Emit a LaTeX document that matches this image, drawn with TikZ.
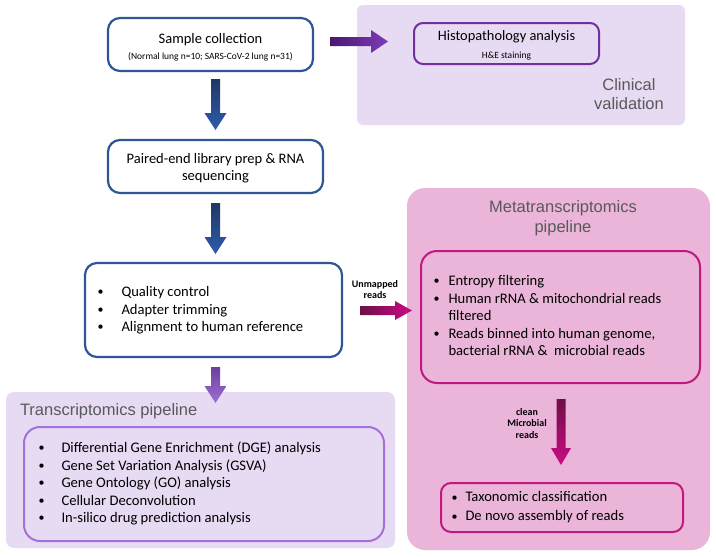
\documentclass[tikz,border=0pt]{standalone}
\usepackage{fontspec}
\setmainfont{Carlito}
\newfontfamily\arialf{Liberation Sans}
\usetikzlibrary{calc}
\definecolor{boxblue}{HTML}{2F5597}
\definecolor{navytop}{HTML}{1F3864}
\definecolor{bluebot}{HTML}{2E5CAC}
\definecolor{histpurple}{HTML}{7030A0}
\definecolor{purpdark}{HTML}{4A1870}
\definecolor{purplight}{HTML}{7E3BB8}
\definecolor{lavbg}{HTML}{E7DAF3}
\definecolor{transborder}{HTML}{A570DA}
\definecolor{transtop}{HTML}{6A3F9C}
\definecolor{transbot}{HTML}{A06ED6}
\definecolor{pinkbg}{HTML}{EBB5D9}
\definecolor{magborder}{HTML}{C2177F}
\definecolor{magdark}{HTML}{6E0F47}
\definecolor{maglight}{HTML}{CC0A86}
\definecolor{titlegray}{HTML}{595959}
\newcommand{\bul}{\raisebox{0.8pt}{\fontsize{12}{12}\selectfont\textbullet}}
\newcommand{\varrowshape}[5]{\shade[top color=#3,bottom color=#4] let \p1=#1, \p2=#2 in
  (\x2-4.5pt,\y1) -- (\x2+4.5pt,\y1) -- (\x2+4.5pt,\y2+17pt) -- (\x2+#5,\y2+17pt) -- (\x2,\y2)
  -- (\x2-#5,\y2+17pt) -- (\x2-4.5pt,\y2+17pt) -- cycle;}
\newcommand{\harrowshape}[5]{\shade[left color=#3,right color=#4] let \p1=#1, \p2=#2 in
  (\x1,\y2+4.5pt) -- (\x2-17pt,\y2+4.5pt) -- (\x2-17pt,\y2+#5) -- (\x2,\y2)
  -- (\x2-17pt,\y2-#5) -- (\x2-17pt,\y2-4.5pt) -- (\x1,\y2-4.5pt) -- cycle;}
\begin{document}
\begin{tikzpicture}[x=1pt,y=-1pt,
  bgbox/.style={draw=none, inner sep=0pt, outer sep=0pt},
  bluebox/.style={draw=boxblue, line width=2.2pt, rounded corners=12pt, fill=white, inner sep=0pt, outer sep=0pt},
  histbox/.style={draw=histpurple, line width=2pt, rounded corners=9pt, inner sep=0pt, outer sep=0pt},
  magbox/.style={draw=magborder, line width=2pt, rounded corners=16pt, inner sep=0pt, outer sep=0pt},
  transbox/.style={draw=transborder, line width=2pt, rounded corners=16pt, inner sep=0pt, outer sep=0pt},
  boxtext/.style={inner sep=0pt, outer sep=0pt, align=center, font=\fontsize{14.5}{17}\selectfont},
  listtext/.style={inner sep=0pt, outer sep=0pt, anchor=west, align=left, font=\fontsize{14.6}{17.5}\selectfont},
  title/.style={inner sep=0pt, outer sep=0pt, text=titlegray, font=\arialf\fontsize{16.5}{18.5}\selectfont, align=center},
  arrowlabel/.style={inner sep=0pt, outer sep=0pt, align=center, font=\bfseries\fontsize{10}{11.5}\selectfont}
]
\useasboundingbox (0,0) rectangle (716,557);
\fill[white] (0,0) rectangle (716,557);

% backgrounds
\node[bgbox, fill=lavbg, rounded corners=6pt, minimum width=328pt, minimum height=120pt] (clinbg) at (521,65) {};
\node[bgbox, fill=pinkbg, rounded corners=18pt, minimum width=303pt, minimum height=362pt] (metabg) at (558.5,369) {};
\node[bgbox, fill=lavbg, rounded corners=8pt, minimum width=389pt, minimum height=156pt] (transbg) at (200.5,470) {};

% titles
\node[title] (clintitle) at (629,94) {Clinical\\validation};
\node[title, font=\arialf\fontsize{16.5}{20}\selectfont] (metatitle) at (563,218) {Metatranscriptomics\\pipeline};
\node[title, anchor=west] (transtitle) at (20,411) {Transcriptomics pipeline};

% main boxes
\node[bluebox, minimum width=205pt, minimum height=53pt] (sample) at (210.5,44.5) {};
\node[boxtext] (sampletext) at ($(sample.center)+(0,3)$)
  {Sample collection\\[-1pt]{\fontsize{9.5}{11}\selectfont (Normal lung n=10; SARS-CoV-2 lung n=31)}};
\node[bluebox, minimum width=215pt, minimum height=53pt] (paired) at (215.5,166.5) {};
\node[boxtext] (pairedtext) at ($(paired.center)+(0,2)$)
  {Paired-end library prep \& RNA\\sequencing};
\node[bluebox, minimum width=257pt, minimum height=94pt] (qc) at (213.5,310) {};
\node[listtext] (qctext) at ($(qc.west)+(12.5,0.5)$)
  {\begin{tabular}{@{}p{24pt}@{}l@{}}\bul & Quality control\\ \bul & Adapter trimming\\ \bul & Alignment to human reference\end{tabular}};

\node[histbox, minimum width=185pt, minimum height=41pt] (histo) at (506.5,43.5) {};
\node[boxtext] (histotext) at ($(histo.center)+(0,2)$)
  {{\fontsize{14.4}{15}\selectfont Histopathology analysis}\\[1pt]{\fontsize{9.5}{10}\selectfont H\&E staining}};

\node[magbox, minimum width=279pt, minimum height=132pt] (meta1) at (560.5,317) {};
\node[listtext] (meta1text) at ($(meta1.west)+(12.5,0)$)
  {\begin{tabular}{@{}p{15pt}@{}l@{}}\bul & Entropy filtering\\ \bul & Human rRNA \& mitochondrial reads\\ & filtered\\ \bul & Reads binned into human genome,\\ & bacterial rRNA \&\ \ microbial reads\end{tabular}};

\node[magbox, rounded corners=10pt, minimum width=242pt, minimum height=49pt] (meta2) at (562,507.5) {};
\node[listtext, font=\fontsize{14.6}{19}\selectfont] (meta2text) at ($(meta2.west)+(10.5,0)$)
  {\begin{tabular}{@{}p{14pt}@{}l@{}}\bul & Taxonomic classification\\ \bul & De novo assembly of reads\end{tabular}};

\node[transbox, minimum width=360pt, minimum height=114pt] (trans) at (204,484) {};
\node[listtext] (transtext) at ($(trans.west)+(14.5,0)$)
  {\begin{tabular}{@{}p{23pt}@{}l@{}}\bul & Differential Gene Enrichment (DGE) analysis\\ \bul & Gene Set Variation Analysis (GSVA)\\ \bul & Gene Ontology (GO) analysis\\ \bul & Cellular Deconvolution\\ \bul & In-silico drug prediction analysis\end{tabular}};

% block arrows
\varrowshape{($(sample.south)+(5,8)$)}{($(paired.north)+(0,-10)$)}{navytop}{bluebot}{11pt}
\varrowshape{($(paired.south)+(0,10)$)}{($(qc.north -| paired.north)+(0,-9)$)}{navytop}{bluebot}{11pt}
\varrowshape{($(qc.south)+(0,10)$)}{($(qc.south -| paired.south)+(0,46)$)}{transtop}{transbot}{11pt}
\harrowshape{($(sample.east)+(17,0)$)}{($(histo.west)+(-26,-2)$)}{purpdark}{purplight}{11.5pt}
\harrowshape{($(qc.east)+(18,0)$)}{($(meta1.west)+(-9,-6.5)$)}{magdark}{maglight}{9.5pt}
\varrowshape{($(meta1.south)+(0,16)$)}{($(meta2.north)+(-1,-18)$)}{magdark}{maglight}{10pt}

% arrow labels
\node[arrowlabel] (unmappedlbl) at (375,289.5) {Unmapped\\reads};
\node[arrowlabel] (cleanlbl) at (527,423.5) {clean\\Microbial\\reads};
\end{tikzpicture}
\end{document}
